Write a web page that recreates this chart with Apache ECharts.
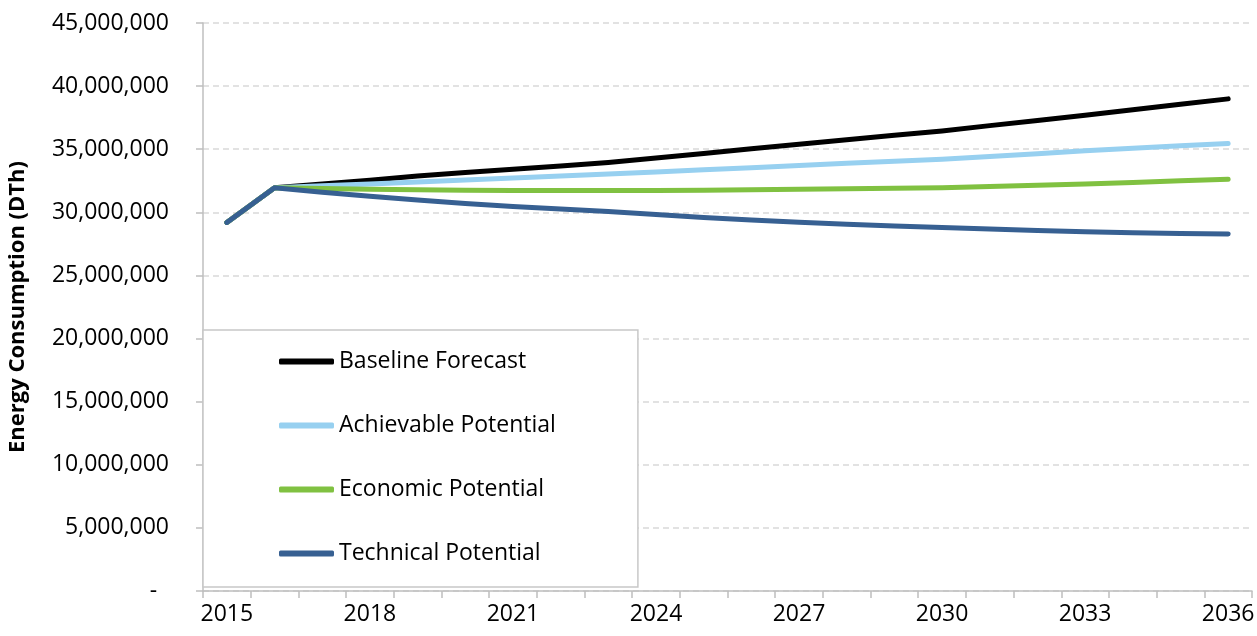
<!DOCTYPE html>
<html>
<head>
<meta charset="utf-8">
<script src="https://cdn.jsdelivr.net/npm/echarts@6/dist/echarts.min.js"></script>
<style>
  html, body { margin: 0; padding: 0; background: #fff; }
  #chart { width: 1257px; height: 636px; }
</style>
</head>
<body>
<div id="chart"></div>
<script>
// years on the category axis
const years = ["2015","2016","2017","2018","2019","2020","2021","2022","2023","2024","2025",
  "2026","2027","2028","2029","2030","2031","2032","2033","2034","2035","2036"];

// values in DTh
const baselineForecast = [29200000, 31950000, 32250000, 32550000, 32870000, 33150000, 33420000,
  33680000, 33950000, 34300000, 34670000, 35040000, 35400000, 35750000, 36100000, 36450000,
  36870000, 37280000, 37700000, 38130000, 38560000, 38990000];
const achievablePotential = [29200000, 31950000, 32100000, 32250000, 32400000, 32560000, 32720000,
  32870000, 33030000, 33200000, 33370000, 33540000, 33710000, 33880000, 34040000, 34200000,
  34420000, 34650000, 34870000, 35070000, 35270000, 35460000];
const economicPotential = [29200000, 31950000, 31880000, 31820000, 31780000, 31750000, 31730000,
  31720000, 31720000, 31730000, 31750000, 31780000, 31820000, 31860000, 31900000, 31950000,
  32040000, 32140000, 32240000, 32370000, 32500000, 32630000];
const technicalPotential = [29200000, 31950000, 31600000, 31270000, 30970000, 30700000, 30470000,
  30260000, 30070000, 29830000, 29600000, 29400000, 29220000, 29060000, 28920000, 28800000,
  28670000, 28560000, 28470000, 28380000, 28320000, 28280000];

const seriesNames = ["Baseline Forecast", "Achievable Potential", "Economic Potential", "Technical Potential"];
const seriesColors = ["#000000", "#97D0F0", "#80C141", "#376092"];
const seriesData = [baselineForecast, achievablePotential, economicPotential, technicalPotential];

const font = "'Open Sans', sans-serif";
const myChart = echarts.init(document.getElementById("chart"));

const option = {
  animation: false,
  backgroundColor: "#ffffff",
  grid: { left: 203, right: 5, top: 23, bottom: 45, outerBoundsMode: "none" },
  legend: {
    orient: "vertical",
    left: 203,
    top: 330,
    padding: [20, 82, 22, 76],
    icon: "roundRect",
    itemWidth: 55,
    itemHeight: 6,
    itemGap: 41,
    backgroundColor: "#ffffff",
    borderColor: "#c8c8c8",
    borderWidth: 1.5,
    borderRadius: 0,
    selectedMode: false,
    textStyle: { fontFamily: font, fontSize: 23, color: "#000" },
    data: seriesNames
  },
  xAxis: {
    type: "category",
    data: years,
    boundaryGap: true,
    axisLine: { lineStyle: { color: "#bfbfbf", width: 1.5 } },
    axisTick: { show: true, interval: 0, length: 7, lineStyle: { color: "#bfbfbf", width: 1.5 } },
    axisLabel: { interval: 2, margin: 12, fontFamily: font, fontSize: 23, color: "#000" },
    splitLine: { show: false }
  },
  yAxis: {
    type: "value",
    min: 0,
    max: 45000000,
    interval: 5000000,
    name: "Energy Consumption (DTh)",
    nameLocation: "middle",
    nameGap: 174,
    nameTextStyle: { fontFamily: font, fontSize: 22, fontWeight: "bold", color: "#000" },
    axisLine: { show: true, lineStyle: { color: "#bfbfbf", width: 1.5 } },
    axisTick: { show: true, length: 7, lineStyle: { color: "#bfbfbf", width: 1.5 } },
    axisLabel: {
      margin: 34,
      fontFamily: font,
      fontSize: 23,
      color: "#000",
      formatter: (v) => (v === 0 ? "-  " : v.toLocaleString("en-US"))
    },
    splitLine: { lineStyle: { color: "#d9d9d9", type: [6, 4], width: 1.5 } }
  },
  series: seriesNames.map((name, i) => ({
    name: name,
    type: "line",
    data: seriesData[i],
    symbol: "none",
    smooth: false,
    color: seriesColors[i],
    lineStyle: { color: seriesColors[i], width: 5, cap: "round", join: "round" },
    z: 2 + i
  }))
};

myChart.setOption(option);
</script>
</body>
</html>
